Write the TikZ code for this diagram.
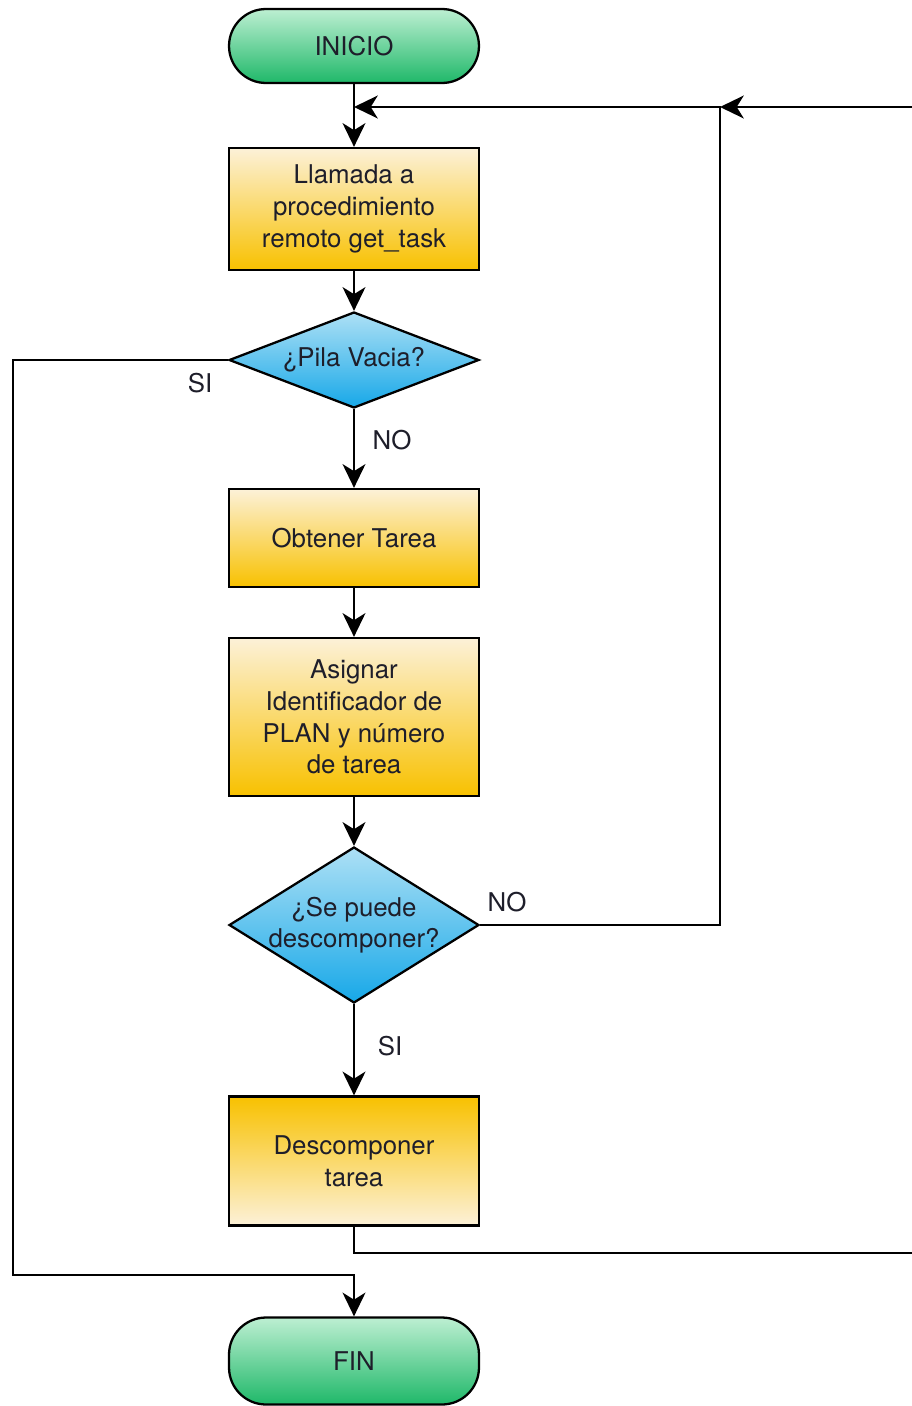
\documentclass[tikz,border=0pt]{standalone}
\usepackage{fontspec}
\setmainfont{TeX Gyre Heros}
\usepackage{tikz}
\usetikzlibrary{arrows.meta,shapes.geometric}
\definecolor{termtop}{HTML}{BDEFD2}
\definecolor{termbot}{HTML}{1FB869}
\definecolor{boxtop}{HTML}{FCF1D8}
\definecolor{boxbot}{HTML}{F8C100}
\definecolor{dectop}{HTML}{ADE0F5}
\definecolor{decbot}{HTML}{17A8E8}
\definecolor{ink}{HTML}{1E1E2A}

\begin{document}
\begin{tikzpicture}[x=0.02cm,y=-0.02cm,
    every node/.style={font=\fontsize{14.7}{18}\selectfont,text=ink,align=center},
    term/.style={draw,line width=1.3pt,top color=termtop,bottom color=termbot,minimum width=5cm,rounded corners=0.74cm},
    proc/.style={draw,line width=1.3pt,top color=boxtop,bottom color=boxbot,minimum width=5cm},
    dec/.style={diamond,draw,line width=1.3pt,top color=dectop,bottom color=decbot,minimum width=5cm,inner sep=-0.4cm,aspect=1.6},
    flow/.style={line width=1.5pt,-{Stealth[length=13.5pt,width=13pt,inset=4pt]}}]
      \useasboundingbox (0,0) rectangle (912,1406);
      \clip (0,0) rectangle (912,1406);

      \path
      (354,46) node[term,minimum height=1.48cm](inicio) {INICIO}
      (354,209) node[proc,minimum height=2.44cm](llamada) {Llamada a\\procedimiento\\remoto get\_task}
      (354,360) node[dec,minimum height=1.92cm](pila) {¿Pila Vacia?}
      (354,538) node[proc,minimum height=1.96cm](obtener) {Obtener Tarea}
      (354,717) node[proc,minimum height=3.16cm](asignar) {Asignar\\Identificador de\\PLAN y número\\de tarea}
      (354,925) node[dec,minimum height=3.12cm](sepuede) {¿Se puede\\descomponer?}
      (354,1161) node[proc,minimum height=2.58cm,top color=boxbot,bottom color=boxtop](descomp) {Descomponer\\tarea}
      (354,1361) node[term,minimum height=1.74cm](fin) {FIN}
      (200,383) node(si1) {SI}
      (392,440) node(no1) {NO}
      (507,902) node(no2) {NO}
      (390,1046) node(si2) {SI}
      ;

      \coordinate (sibend) at (13,1275);
      \coordinate (retlow) at (930,1253);
      \coordinate (rethigh) at (930,107);
      \coordinate (merge) at (720,107);
      \coordinate (entry) at (354,107);

      \draw[flow] (inicio) -- (llamada);
      \draw[flow] (llamada) -- (pila);
      \draw[flow] (pila) -- (obtener);
      \draw[flow] (obtener) -- (asignar);
      \draw[flow] (asignar) -- (sepuede);
      \draw[flow] (sepuede) -- (descomp);
      \draw[flow] (pila.west) -| (sibend) -| (fin.north);
      \draw[flow] (descomp.south) |- (retlow) -- (rethigh) -- (merge);
      \draw[flow] (sepuede.east) -| (merge) -- (entry);
    \end{tikzpicture}
\end{document}
